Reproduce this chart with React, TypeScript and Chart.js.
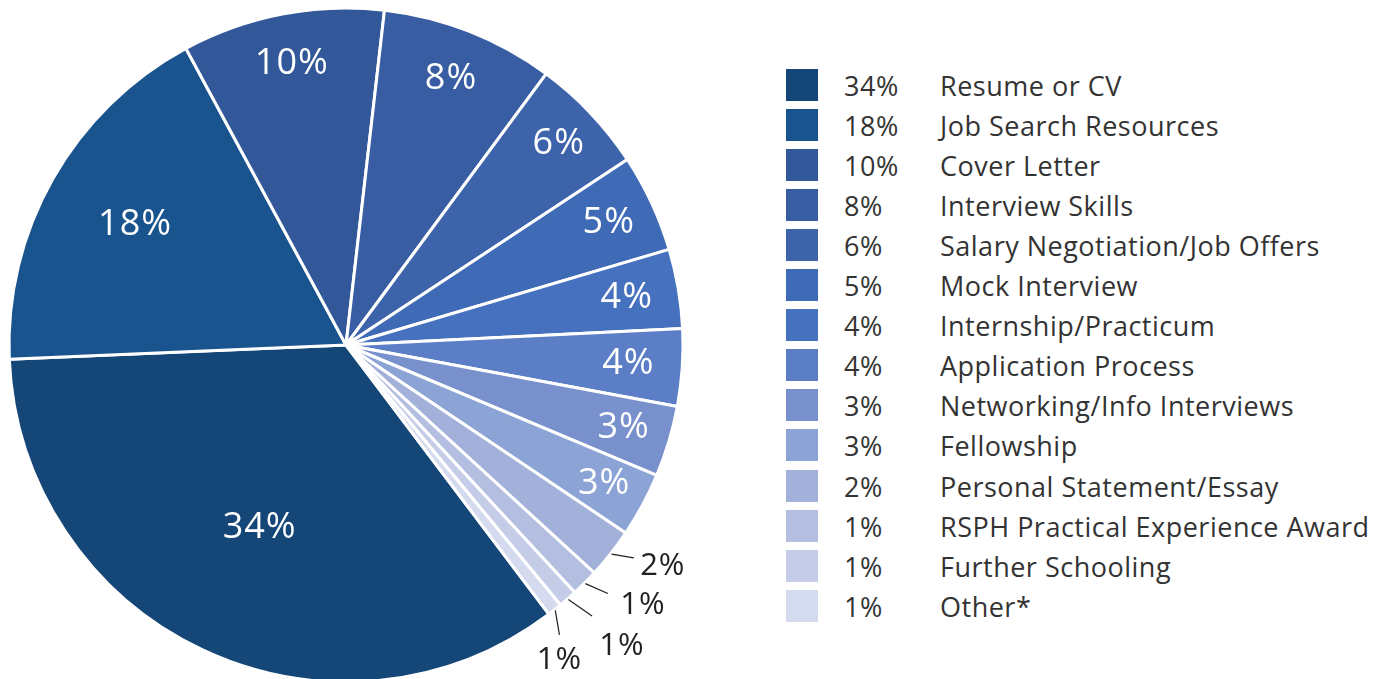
import React, { useEffect, useRef } from "react";
import { Chart, registerables } from "chart.js";

Chart.register(...registerables);

const categories = [
  "Resume or CV",
  "Job Search Resources",
  "Cover Letter",
  "Interview Skills",
  "Salary Negotiation/Job Offers",
  "Mock Interview",
  "Internship/Practicum",
  "Application Process",
  "Networking/Info Interviews",
  "Fellowship",
  "Personal Statement/Essay",
  "RSPH Practical Experience Award",
  "Further Schooling",
  "Other*",
];

const values = [34.6, 17.8, 9.7, 8.3, 5.6, 4.7, 3.8, 3.7, 3.4, 3.1, 2.4, 1.3, 0.9, 0.7];

const percentLabels = ["34%", "18%", "10%", "8%", "6%", "5%", "4%", "4%", "3%", "3%", "2%", "1%", "1%", "1%"];

const colors = [
  "#144677",
  "#1a548f",
  "#325899",
  "#385da2",
  "#3d64ab",
  "#3f6ab6",
  "#4571bf",
  "#5b7ec7",
  "#7890cc",
  "#8ba3d5",
  "#a2b0da",
  "#b3bee1",
  "#c4cce8",
  "#d4dbef",
];

// label placement styling (fraction of radius for inside labels)
const insideRadius = [0.6, 0.72, 0.85, 0.85, 0.87, 0.86, 0.845, 0.84, 0.86, 0.87];
// outside labels: [angle shift deg, extra radius, text dx, text dy]
const outsidePlacement: Record<number, [number, number, number, number]> = {
  10: [-1.75, 21, 29, 8],
  11: [-1.4, 24, 35, 12],
  12: [-1.1, 29, 30, 30],
  13: [1.9, 23, 0, 25],
};

const FONT = "'Open Sans', sans-serif";

const labelPlugin = {
  id: "sliceLabels",
  afterDatasetsDraw(chart: any) {
    const ctx = chart.ctx;
    const meta = chart.getDatasetMeta(0);
    meta.data.forEach((arc: any, i: number) => {
      const { x, y, startAngle, endAngle, outerRadius } = arc.getProps(
        ["x", "y", "startAngle", "endAngle", "outerRadius"],
        true
      );
      const mid = (startAngle + endAngle) / 2;
      ctx.save();
      if (i < insideRadius.length) {
        const r = outerRadius * insideRadius[i];
        ctx.fillStyle = "#ffffff";
        ctx.font = `36px ${FONT}`;
        (ctx as any).letterSpacing = "1px";
        ctx.textAlign = "center";
        ctx.textBaseline = "middle";
        ctx.fillText(percentLabels[i], x + Math.cos(mid) * r, y + Math.sin(mid) * r);
      } else {
        const p = outsidePlacement[i];
        const a2 = mid + (p[0] * Math.PI) / 180;
        const sx = x + Math.cos(mid) * (outerRadius + 1);
        const sy = y + Math.sin(mid) * (outerRadius + 1);
        const ex = x + Math.cos(a2) * (outerRadius + p[1]);
        const ey = y + Math.sin(a2) * (outerRadius + p[1]);
        ctx.strokeStyle = "#231f20";
        ctx.lineWidth = 1.2;
        ctx.beginPath();
        ctx.moveTo(sx, sy);
        ctx.lineTo(ex, ey);
        ctx.stroke();
        ctx.fillStyle = "#231f20";
        ctx.font = `31px ${FONT}`;
        (ctx as any).letterSpacing = "1px";
        ctx.textAlign = "center";
        ctx.textBaseline = "middle";
        ctx.fillText(percentLabels[i], ex + p[2], ey + p[3]);
      }
      ctx.restore();
    });
  },
};

export default function App() {
  const ref = useRef<HTMLCanvasElement | null>(null);

  useEffect(() => {
    if (!ref.current) return;
    const chart = new Chart(ref.current, {
      type: "pie",
      data: {
        labels: categories,
        datasets: [
          {
            data: values,
            backgroundColor: colors,
            borderColor: "#ffffff",
            borderWidth: 3,
            clip: false as any,
          },
        ],
      },
      options: {
        animation: false,
        responsive: false,
        rotation: 143,
        radius: 337,
        layout: { padding: { left: 0, right: 8, top: 11, bottom: 0 } },
        plugins: {
          legend: { display: false },
          tooltip: { enabled: false },
        },
      } as any,
      plugins: [labelPlugin],
    });
    return () => chart.destroy();
  }, []);

  return (
    <div
      style={{
        position: "absolute",
        left: 0,
        top: 0,
        width: 1385,
        height: 679,
        background: "#ffffff",
        overflow: "hidden",
      }}
    >
      <canvas
        ref={ref}
        width={700}
        height={679}
        style={{ position: "absolute", left: 0, top: 0, width: 700, height: 679 }}
      />
      {categories.map((c, i) => (
        <div
          key={c}
          style={{
            position: "absolute",
            left: 786,
            top: 70 + i * 40.05,
            height: 32,
            width: 600,
            fontFamily: FONT,
            fontSize: 27,
            letterSpacing: "0.5px",
            color: "#333333",
            lineHeight: "32px",
            whiteSpace: "nowrap",
          }}
        >
          <span
            style={{
              position: "absolute",
              left: 0,
              top: -1,
              width: 32,
              height: 32,
              background: colors[i],
            }}
          />
          <span style={{ position: "absolute", left: 58, top: 0 }}>{percentLabels[i]}</span>
          <span style={{ position: "absolute", left: 154, top: 0 }}>{c}</span>
        </div>
      ))}
    </div>
  );
}
